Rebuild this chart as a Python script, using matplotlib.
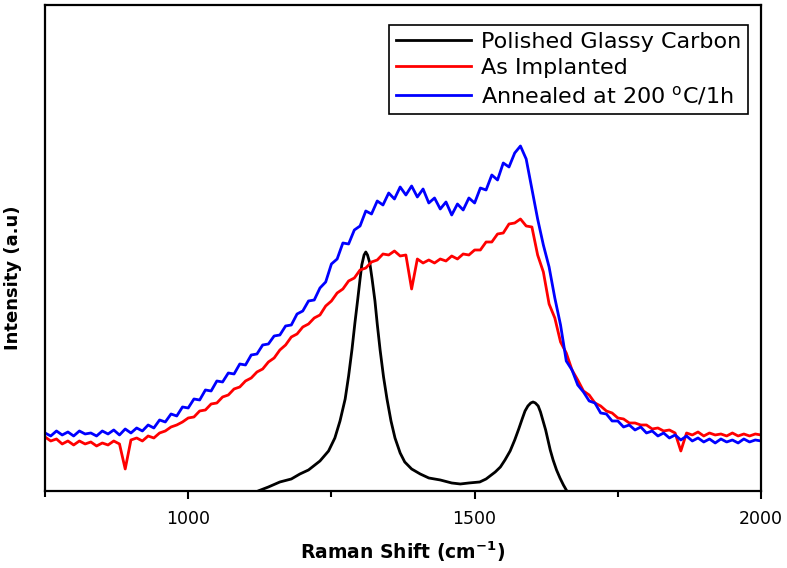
import matplotlib
matplotlib.use("Agg")
import matplotlib.pyplot as plt
from matplotlib.ticker import MultipleLocator

# Raman shift grid (cm-1) for the two implanted spectra
shift = list(range(750, 2001, 10))

as_implanted = [
    54, 50, 52, 47, 50, 46, 50, 47, 49, 45,
    48, 46, 50, 47, 22, 51, 53, 50, 55, 53,
    58, 60, 64, 66, 69, 73, 74, 80, 81, 87,
    88, 94, 96, 102, 104, 110, 113, 119, 122, 129,
    133, 141, 146, 154, 157, 164, 167, 173, 176, 185,
    190, 198, 202, 210, 213, 221, 223, 229, 231, 237,
    236, 240, 235, 236, 202, 232, 228, 231, 228, 232,
    230, 235, 232, 237, 236, 241, 241, 249, 249, 257,
    258, 267, 268, 272, 265, 264, 236, 219, 187, 173,
    149, 138, 121, 111, 100, 96, 88, 85, 80, 78,
    73, 72, 68, 68, 66, 66, 62, 63, 60, 61,
    58, 40, 58, 56, 59, 55, 58, 56, 57, 55,
    58, 55, 57, 55, 57, 56,
]

annealed = [
    58, 55, 60, 56, 59, 55, 60, 57, 58, 55,
    60, 57, 61, 56, 62, 58, 63, 60, 66, 63,
    71, 69, 77, 75, 84, 83, 92, 91, 101, 100,
    110, 109, 118, 117, 127, 126, 136, 137, 146, 147,
    155, 156, 165, 166, 177, 180, 190, 191, 203, 209,
    227, 232, 248, 247, 261, 265, 280, 277, 290, 286,
    298, 292, 304, 296, 305, 294, 302, 288, 293, 282,
    289, 276, 287, 281, 293, 288, 303, 301, 316, 311,
    328, 324, 338, 345, 332, 302, 272, 246, 224, 193,
    166, 130, 121, 106, 99, 90, 88, 78, 77, 70,
    70, 64, 66, 61, 64, 58, 60, 55, 58, 53,
    56, 51, 55, 50, 53, 49, 52, 48, 52, 49,
    51, 48, 52, 49, 51, 50,
]

# polished glassy carbon: D and G bands
glassy_shift = [1100, 1122, 1140, 1160, 1180, 1195, 1210, 1230, 1245, 1256,
                1265, 1274, 1280, 1286, 1291, 1296, 1300, 1303, 1307, 1310,
                1313, 1317, 1321, 1326, 1330, 1335, 1341, 1347, 1354, 1361,
                1370, 1378, 1390, 1405, 1420, 1440, 1460, 1475, 1490, 1509,
                1520, 1536, 1545, 1553, 1562, 1570, 1577, 1583, 1588, 1593,
                1598, 1602, 1606, 1611, 1615, 1619, 1624, 1628, 1632, 1637,
                1643, 1649, 1655, 1661, 1670]
glassy = [-8, 0, 4, 9, 12, 17, 21, 30, 40, 53,
          70, 92, 115, 142, 168, 192, 212, 226, 236, 239,
          236, 228, 212, 190, 167, 141, 114, 92, 70, 53,
          38, 29, 22, 17, 13, 11, 8, 7, 8, 9,
          12, 19, 24, 31, 40, 51, 62, 72, 80, 85,
          88, 89, 88, 85, 79, 71, 61, 51, 41, 31,
          21, 13, 6, 0, -8]

labels = ["Polished Glassy Carbon", "As Implanted",
          "Annealed at 200 $^{\\mathrm{o}}$C/1h"]

fig = plt.figure(figsize=(7.87, 5.68), dpi=100)
ax = fig.add_axes([0.0572, 0.1356, 0.9098, 0.8556])

ax.plot(glassy_shift, glassy, color="black", lw=2.0, label=labels[0])
ax.plot(shift, as_implanted, color="#ff0000", lw=2.0, label=labels[1])
ax.plot(shift, annealed, color="#0000ff", lw=2.0, label=labels[2])

ax.set_xlim(750, 2000)
ax.set_ylim(0, 486)
ax.set_yticks([])
ax.xaxis.set_major_locator(MultipleLocator(500))
ax.xaxis.set_minor_locator(MultipleLocator(250))
ax.tick_params(axis="x", which="major", direction="out", length=6, width=1.5,
               labelsize=12.5, pad=8)
ax.tick_params(axis="x", which="minor", direction="out", length=4, width=1.5)
for s in ax.spines.values():
    s.set_linewidth(1.6)

ax.set_xlabel("Raman Shift (cm$^{\\mathbf{-1}}$)", fontsize=13.5, fontweight="bold")
ax.xaxis.set_label_coords(0.5, -0.1)
ax.set_ylabel("Intensity (a.u)", fontsize=13, fontweight="bold")
ax.yaxis.set_label_coords(-0.032, 0.438)

leg = ax.legend(loc="upper right", bbox_to_anchor=(0.982, 0.959),
                borderaxespad=0, fontsize=16, handlelength=3.4,
                labelspacing=0.28, fancybox=False, framealpha=1,
                borderpad=0.3, handletextpad=0.45)
leg.get_frame().set_edgecolor("black")
leg.get_frame().set_linewidth(1.2)

fig.savefig("out.png", dpi=100)
